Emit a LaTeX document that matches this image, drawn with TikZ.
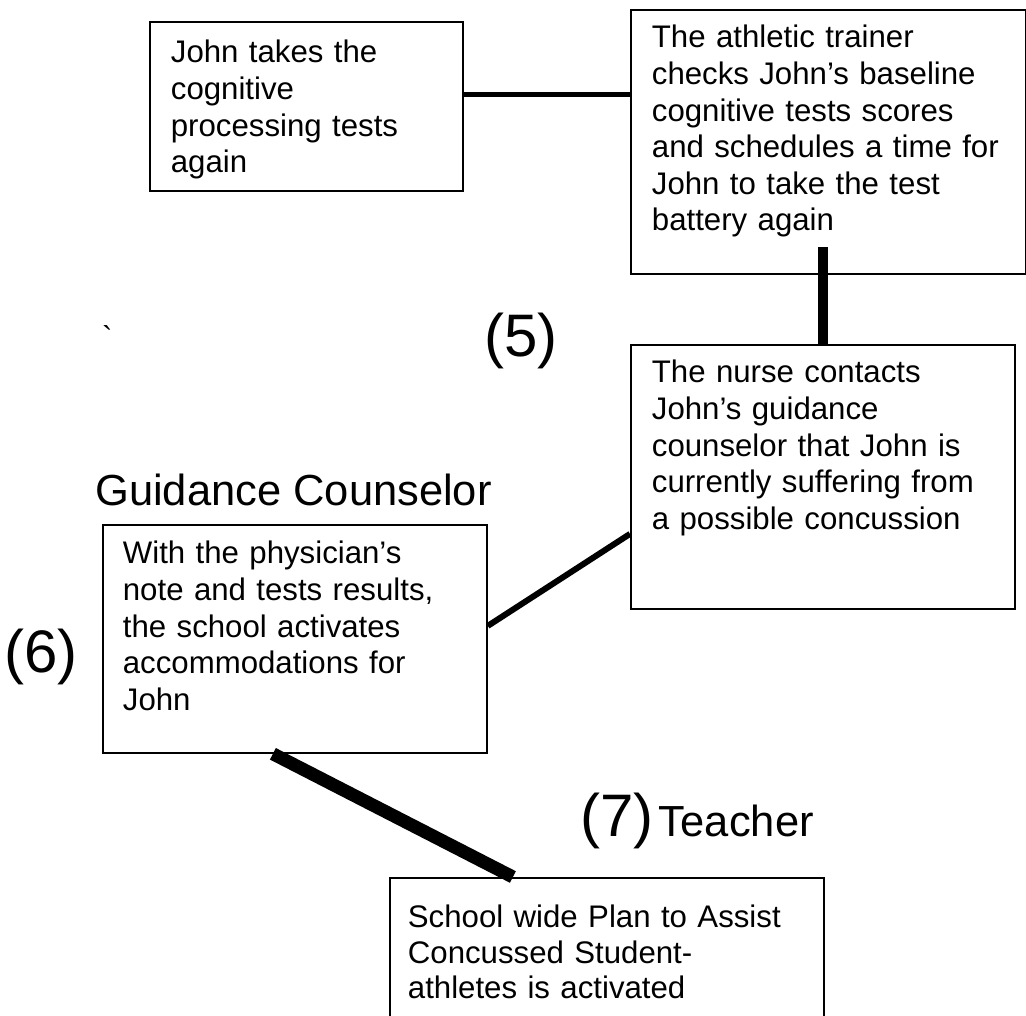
\documentclass[tikz,border=0pt]{standalone}
\usepackage{fontspec}
\setmainfont{Liberation Sans}
\usetikzlibrary{positioning}

\begin{document}
\begin{tikzpicture}[
  x=1pt, y=-1pt,
  font=\fontsize{31.2}{36.6}\selectfont,
  stage/.style={draw, line width=1.8pt, anchor=north west, align=left, inner ysep=0pt, inner xsep=21pt},
  link/.style={line width=5pt},
  role/.style={anchor=base west, inner sep=0pt, font=\fontsize{43.5}{48}\selectfont},
  num/.style={anchor=base west, inner sep=0pt, font=\fontsize{60}{66}\selectfont},
]
\useasboundingbox (0,0) rectangle (1026,1016);

% Boxes (top left corner, text top-aligned)
\node[stage, text width=271pt, text height=41pt, text depth=128pt] (retest) at (149,21) {John takes the\\cognitive\\processing tests\\again};
\node[stage, text width=353pt, text height=38pt, text depth=226pt] (trainer) at (630,9) {The athletic trainer\\checks John’s baseline\\cognitive tests scores\\and schedules a time for\\John to take the test\\battery again};
\node[stage, text width=342pt, text height=38pt, text depth=226pt] (nurse) at (630,344) {The nurse contacts\\John’s guidance\\counselor that John is\\currently suffering from\\a possible concussion};
\node[stage, inner xsep=20pt, text width=344pt, text height=39pt, text depth=189pt] (school) at (102,524) {With the physician’s\\note and tests results,\\the school activates\\accommodations for\\John};
\node[stage, inner xsep=18pt, text width=398pt, text height=50pt, text depth=113pt, font=\fontsize{31.2}{35.5}\selectfont] (plan) at (389,877) {School wide Plan to Assist\\Concussed Student-\\athletes is activated};

% Step numbers and roles
\node[anchor=base west, inner sep=0pt] (tick) at (102,349) {\textasciigrave};
\node[num] (n5) at (484,357) {(5)};
\node[role] (counsel) at (95,505) {Guidance Counselor};
\node[num] (n6) at (4,672) {(6)};
\node[num] (n7) at (580,836) {(7)};
\node[role, right=5pt of n7.base east, anchor=base west] (teacher) {Teacher};

% Connectors
\draw[link] ([yshift=11.5pt]retest.east) -- ([yshift=11.5pt]retest.east -| trainer.west);
\draw[link, line width=10pt] ([yshift=28pt]trainer.south -| nurse.north) -- (nurse.north);
\draw[link, line width=6pt] ([yshift=13pt]school.east) -- ([yshift=-57pt]nurse.west);
\draw[link, line width=13pt] ([xshift=-22pt]school.south) -- ([xshift=-94pt]plan.north);

\end{tikzpicture}
\end{document}
